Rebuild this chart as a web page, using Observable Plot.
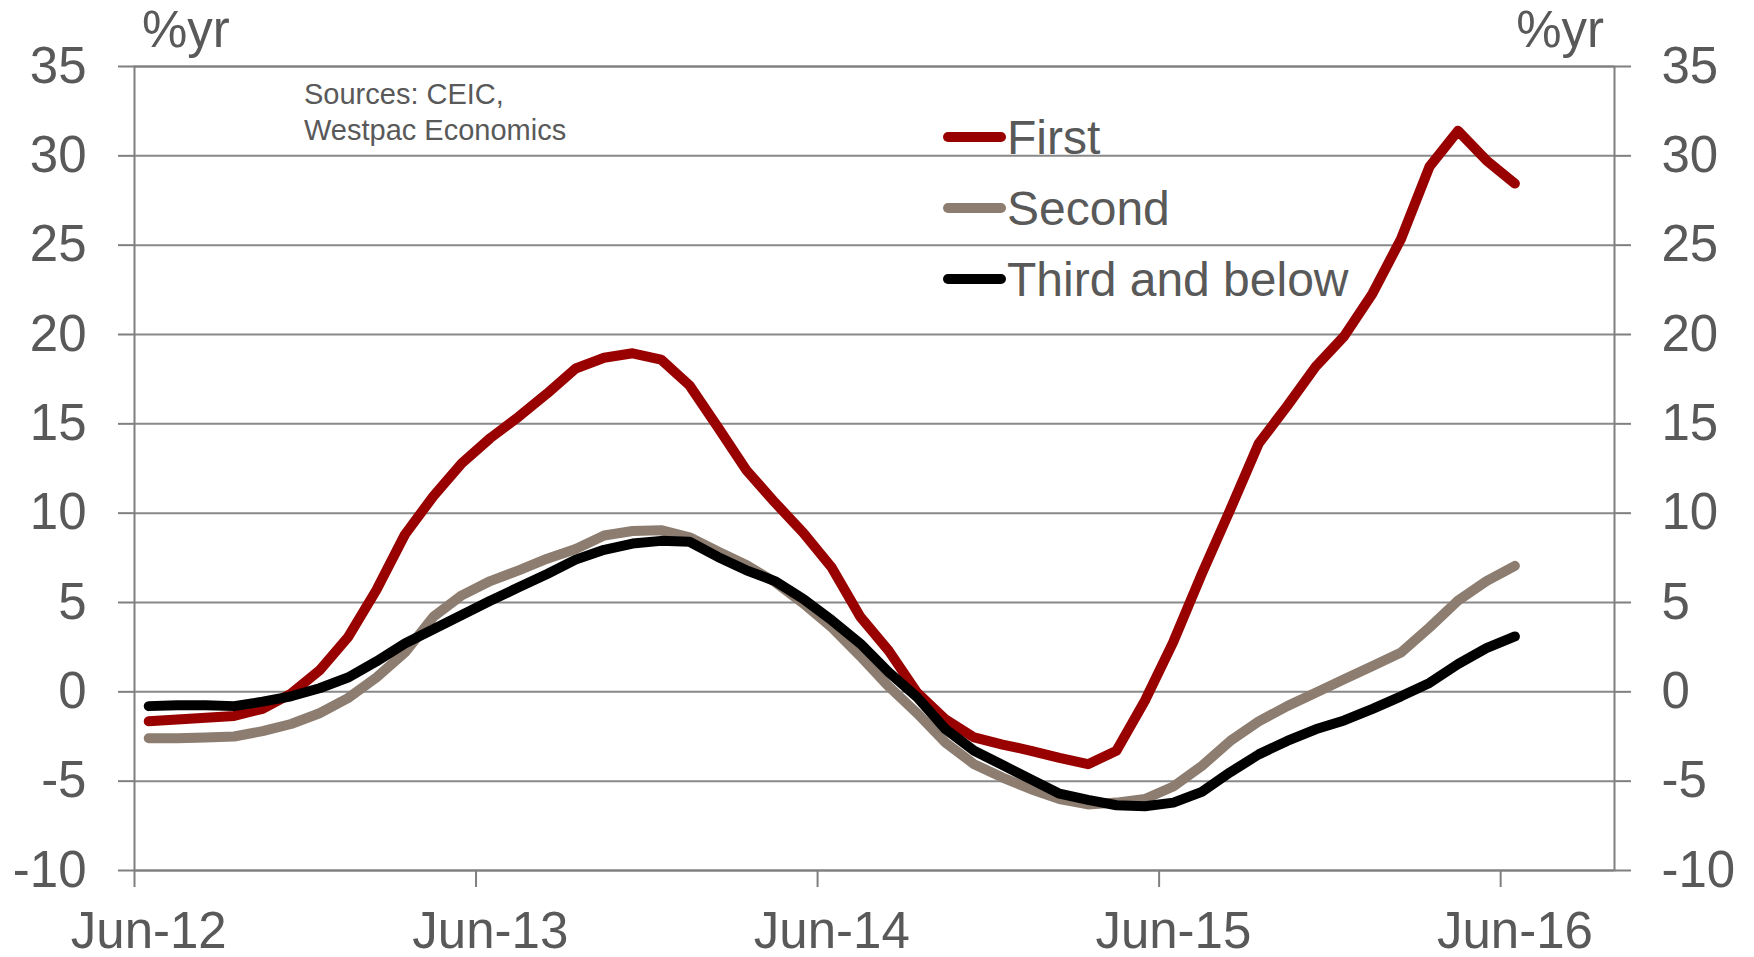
<!DOCTYPE html>
<html><head><meta charset="utf-8">
<script src="https://cdn.jsdelivr.net/npm/d3@7"></script>
<script src="https://cdn.jsdelivr.net/npm/@observablehq/plot@0.6"></script>
<style>html,body{margin:0;padding:0;background:#fff;overflow:hidden}</style>
</head><body><div id="chart"></div>
<script>
const months = ["Jun-12","Jul-12","Aug-12","Sep-12","Oct-12","Nov-12","Dec-12",
  "Jan-13","Feb-13","Mar-13","Apr-13","May-13","Jun-13","Jul-13","Aug-13","Sep-13","Oct-13","Nov-13","Dec-13",
  "Jan-14","Feb-14","Mar-14","Apr-14","May-14","Jun-14","Jul-14","Aug-14","Sep-14","Oct-14","Nov-14","Dec-14",
  "Jan-15","Feb-15","Mar-15","Apr-15","May-15","Jun-15","Jul-15","Aug-15","Sep-15","Oct-15","Nov-15","Dec-15",
  "Jan-16","Feb-16","Mar-16","Apr-16","May-16","Jun-16"];
const first = [-1.65,-1.55,-1.45,-1.35,-0.95,-0.1,1.2,3.05,5.7,8.8,10.95,12.8,14.2,15.4,16.7,18.1,18.7,18.95,18.6,17.15,14.8,12.4,10.6,8.9,6.95,4.2,2.3,-0.05,-1.55,-2.55,-2.95,-3.3,-3.7,-4.05,-3.3,-0.5,2.8,6.6,10.2,13.9,16.0,18.2,19.9,22.3,25.35,29.4,31.4,29.75,28.45];
const second = [-2.6,-2.6,-2.55,-2.5,-2.2,-1.8,-1.2,-0.35,0.8,2.2,4.2,5.4,6.2,6.8,7.45,8.0,8.75,9.0,9.05,8.65,7.85,7.1,6.15,4.95,3.6,2.0,0.3,-1.2,-2.85,-4.05,-4.8,-5.45,-6.0,-6.3,-6.2,-6.0,-5.3,-4.15,-2.75,-1.65,-0.8,-0.05,0.7,1.45,2.2,3.6,5.1,6.2,7.05];
const third = [-0.8,-0.75,-0.75,-0.8,-0.55,-0.25,0.2,0.8,1.7,2.7,3.5,4.3,5.1,5.85,6.6,7.4,7.95,8.3,8.45,8.4,7.55,6.8,6.2,5.2,4.0,2.7,1.1,-0.3,-2.1,-3.3,-4.1,-4.9,-5.7,-6.05,-6.35,-6.4,-6.2,-5.6,-4.5,-3.5,-2.75,-2.1,-1.6,-0.95,-0.25,0.5,1.55,2.45,3.1];
const seriesNames = ["First","Second","Third and below"];
const seriesColors = ["#990000","#8c7d70","#000000"];
const yTicks = [-10,-5,0,5,10,15,20,25,30,35];
const xLabelIdx = [0,12,24,36,48];
const xBoundaryTicks = [-0.5,11.5,23.5,35.5,47.5];
const sourceLines = ["Sources: CEIC,","Westpac Economics"];
const unitLabel = "%yr";

const seriesValues = [first, second, third];
const data = [];
seriesNames.forEach((name, s) => {
  seriesValues[s].forEach((v, i) => data.push({series: name, i, month: months[i], value: v}));
});

const FONT = "'Liberation Sans', Arial, sans-serif";
const TXT = "#595959";
const AX = "#7f7f7f";

const chart = Plot.plot({
  width: 1754, height: 957,
  marginLeft: 134, marginRight: 140, marginTop: 66, marginBottom: 87,
  style: {fontFamily: FONT, background: "#fff", color: TXT, overflow: "visible"},
  x: {type: "linear", domain: [-0.5, 51.5]},
  y: {domain: [-10, 35]},
  color: {domain: seriesNames, range: seriesColors},
  marks: [
    Plot.gridY(yTicks, {stroke: "#898989", strokeOpacity: 1, strokeWidth: 2}),
    Plot.frame({stroke: AX, strokeWidth: 2}),
    Plot.axisY(yTicks, {anchor: "left", tickSize: 16, tickPadding: 32, fontSize: 51, stroke: AX, strokeWidth: 2, color: TXT, tickFormat: d => String(d), label: null}),
    Plot.axisY(yTicks, {anchor: "right", tickSize: 16, tickPadding: 31, fontSize: 51, stroke: AX, strokeWidth: 2, color: TXT, tickFormat: d => String(d), label: null}),
    Plot.axisX(xBoundaryTicks, {anchor: "bottom", tickSize: 17, stroke: AX, strokeWidth: 2, tickFormat: () => "", label: null}),
    Plot.axisX(xLabelIdx, {anchor: "bottom", tickSize: 0, tickPadding: 41, fontSize: 51, color: TXT, tickFormat: i => months[i], label: null}),
    Plot.line(data, {x: "i", y: "value", z: "series", stroke: "series", strokeWidth: 10, strokeLinecap: "round", strokeLinejoin: "round"})
  ]
});
document.getElementById("chart").appendChild(chart);

const svg = d3.select(chart);
const g = svg.append("g").attr("font-family", FONT).attr("fill", TXT).attr("text-anchor", "start");
g.append("text").attr("x", 142).attr("y", 47).attr("font-size", 51).attr("text-anchor", "start").text(unitLabel);
g.append("text").attr("x", 1604).attr("y", 47).attr("font-size", 51).attr("text-anchor", "end").text(unitLabel);
sourceLines.forEach((t, k) => {
  g.append("text").attr("x", 304).attr("y", 104 + k * 36).attr("font-size", 29).attr("text-anchor", "start").text(t);
});
seriesNames.forEach((name, k) => {
  const y = 137 + k * 71;
  g.append("line").attr("x1", 948).attr("x2", 1001).attr("y1", y).attr("y2", y)
    .attr("stroke", seriesColors[k]).attr("stroke-width", 10).attr("stroke-linecap", "round");
  g.append("text").attr("x", 1007).attr("y", y + 17).attr("font-size", 48).attr("text-anchor", "start").text(name);
});
</script></body></html>
